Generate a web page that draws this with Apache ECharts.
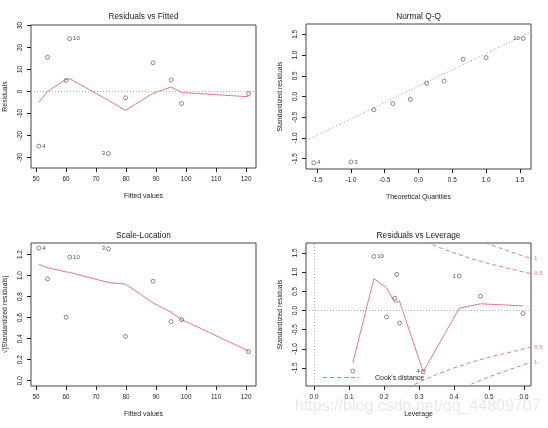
<!DOCTYPE html>
<html>
<head>
<meta charset="utf-8">
<script src="https://cdn.jsdelivr.net/npm/echarts@6/dist/echarts.min.js"></script>
<style>html,body{margin:0;padding:0;background:#fff}#c{width:548px;height:428px}</style>
</head>
<body>
<div id="c"></div>
<script>
// ---------- data ----------
// Residuals vs Fitted
const fitted     = [50.9, 53.8, 60.0, 61.2, 74.1, 79.8, 89.0, 95.0, 98.5, 120.8];
const residuals  = [-24.9, 15.5, 5.0, 24.0, -28.2, -2.9, 13.0, 5.2, -5.5, -1.0];
const fittedLbl  = ['4', '', '', '10', '3', '', '', '', '', ''];
const rvfSmooth  = [-5.0, 0.0, 5.5, 5.8, -4.1, -8.6, -0.8, 2.0, -0.5, -2.4];
const rvfTicksX  = [50, 60, 70, 80, 90, 100, 110, 120];
const rvfTicksY  = [-30, -20, -10, 0, 10, 20, 30];

// Normal Q-Q
const qqTheo     = [-1.55, -1.0, -0.66, -0.38, -0.12, 0.12, 0.38, 0.66, 1.0, 1.55];
const qqStd      = [-1.60, -1.58, -0.32, -0.17, -0.07, 0.32, 0.37, 0.90, 0.94, 1.40];
const qqLbl      = ['4', '3', '', '', '', '', '', '', '', '10'];
const qqLineX    = [-1.7, 1.7];
const qqLineY    = [-1.09, 1.59];
const qqTicks    = [-1.5, -1.0, -0.5, 0.0, 0.5, 1.0, 1.5];

// Scale-Location
const slVal      = [1.261, 0.969, 0.604, 1.176, 1.255, 0.422, 0.947, 0.563, 0.582, 0.277];
const slLbl      = ['4', '', '', '10', '3', '', '', '', '', ''];
const slSmooth   = [1.107, 1.075, 1.035, 1.03, 0.934, 0.919, 0.74, 0.651, 0.582, 0.283];
const slTicksY   = [0.0, 0.2, 0.4, 0.6, 0.8, 1.0, 1.2];

// Residuals vs Leverage
const lev        = [0.111, 0.171, 0.207, 0.231, 0.236, 0.244, 0.312, 0.415, 0.476, 0.597];
const levStd     = [-1.58, 1.41, -0.17, 0.32, 0.94, -0.33, -1.60, 0.90, 0.37, -0.08];
const levLbl     = ['', '10', '', '', '', '', '4', '1', '', ''];
const levSmooth  = [-1.36, 0.83, 0.59, 0.21, 0.19, 0.25, -1.60, 0.06, 0.175, 0.12];
const levTicksX  = [0.0, 0.1, 0.2, 0.3, 0.4, 0.5, 0.6];
const levTicksY  = [-1.5, -1.0, -0.5, 0.0, 0.5, 1.0, 1.5];
const cookHalfUpX = [0.32, 0.35, 0.40, 0.45, 0.50, 0.55, 0.60, 0.62];
const cookHalfUpY = [1.78, 1.67, 1.50, 1.35, 1.22, 1.11, 1.00, 0.96];
const cookOneUpX  = [0.49, 0.50, 0.55, 0.60, 0.62];
const cookOneUpY  = [1.77, 1.73, 1.57, 1.41, 1.36];
const cookHalfLoX = [0.27, 0.30, 0.35, 0.40, 0.45, 0.50, 0.55, 0.60, 0.62];
const cookHalfLoY = [-2.02, -1.87, -1.67, -1.50, -1.35, -1.22, -1.11, -1.00, -0.96];
const cookOneLoX  = [0.43, 0.45, 0.50, 0.55, 0.60, 0.62];
const cookOneLoY  = [-2.00, -1.92, -1.73, -1.57, -1.41, -1.36];

// ---------- styling ----------
const FONT = '"Liberation Sans", Arial, sans-serif';
const RED = '#E8768A';
const INK = '#222';
const zip = (a, b) => a.map((v, i) => [v, b[i]]);

function xAx(gi, min, max, ticks, name, dec) {
  return {
    type: 'value', gridIndex: gi, min: min, max: max,
    axisLine: { show: false, onZero: false }, splitLine: { show: false },
    axisTick: { show: true, length: 4, lineStyle: { color: INK, width: 1 }, customValues: ticks },
    axisLabel: { customValues: ticks, fontSize: 6.4, color: INK, margin: 8, fontFamily: FONT,
                 formatter: v => v.toFixed(dec) },
    name: name, nameLocation: 'middle', nameGap: 25,
    nameTextStyle: { fontSize: 6.9, color: INK, fontFamily: FONT }
  };
}
function yAx(gi, min, max, ticks, name, dec) {
  return {
    type: 'value', gridIndex: gi, min: min, max: max,
    axisLine: { show: false, onZero: false }, splitLine: { show: false },
    axisTick: { show: true, length: 4, lineStyle: { color: INK, width: 1 }, customValues: ticks },
    axisLabel: { customValues: ticks, fontSize: 6.4, color: INK, margin: 8, rotate: 90, fontFamily: FONT,
                 formatter: v => v.toFixed(dec) },
    name: name, nameLocation: 'middle', nameGap: 22,
    nameTextStyle: { fontSize: 6.9, color: INK, fontFamily: FONT }
  };
}
function pts(gi, xs, ys, lbls, leftSet) {
  return {
    type: 'scatter', xAxisIndex: gi, yAxisIndex: gi,
    symbol: 'circle', symbolSize: 4,
    itemStyle: { color: 'rgba(255,255,255,0)', borderColor: '#333', borderWidth: 0.7 },
    data: xs.map((x, i) => ({
      value: [x, ys[i]],
      label: lbls[i] ? { show: true, formatter: lbls[i],
        position: leftSet.includes(lbls[i]) ? 'left' : 'right', distance: 1,
        fontSize: 6, color: INK, fontFamily: FONT } : { show: false }
    })),
    z: 5
  };
}
function smoothLine(gi, xs, ys, extra) {
  return Object.assign({
    type: 'line', xAxisIndex: gi, yAxisIndex: gi, data: zip(xs, ys),
    symbol: 'none', lineStyle: { color: RED, width: 1 }, itemStyle: { color: RED }, z: 3
  }, extra || {});
}
function dottedRef(data) {
  return { silent: true, symbol: 'none', label: { show: false },
    lineStyle: { type: [1, 2], color: '#b5b5b5', width: 1 }, data: data };
}
function cook(xs, ys, lbl) {
  return {
    name: "Cook's distance", type: 'line', xAxisIndex: 3, yAxisIndex: 3,
    data: zip(xs, ys), symbol: 'none', clip: true,
    lineStyle: { color: RED, width: 1, type: [4, 3] }, itemStyle: { color: RED },
    endLabel: { show: true, formatter: lbl, color: RED, fontSize: 6.2, distance: 3, fontFamily: FONT },
    z: 2
  };
}

const titleStyle = { fontSize: 8.3, fontWeight: 'normal', color: INK, fontFamily: FONT };

const option = {
  animation: false,
  backgroundColor: '#fff',
  title: [
    { text: 'Residuals vs Fitted', left: 143.5, top: 13, textAlign: 'center', textStyle: titleStyle, padding: 0 },
    { text: 'Normal Q-Q', left: 418.5, top: 13, textAlign: 'center', textStyle: titleStyle, padding: 0 },
    { text: 'Scale-Location', left: 143.5, top: 232, textAlign: 'center', textStyle: titleStyle, padding: 0 },
    { text: 'Residuals vs Leverage', left: 418.5, top: 232, textAlign: 'center', textStyle: titleStyle, padding: 0 }
  ],
  grid: [
    { left: 31, top: 25, width: 225, height: 143, show: true, borderColor: '#444', borderWidth: 1, backgroundColor: 'transparent' },
    { left: 306, top: 24, width: 225, height: 145, show: true, borderColor: '#444', borderWidth: 1, backgroundColor: 'transparent' },
    { left: 31, top: 243, width: 225, height: 143, show: true, borderColor: '#444', borderWidth: 1, backgroundColor: 'transparent' },
    { left: 306, top: 243, width: 225, height: 143, show: true, borderColor: '#444', borderWidth: 1, backgroundColor: 'transparent' }
  ],
  xAxis: [
    xAx(0, 48.3, 123.3, rvfTicksX, 'Fitted values', 0),
    xAx(1, -1.665, 1.665, qqTicks, 'Theoretical Quantiles', 1),
    xAx(2, 48.3, 123.3, rvfTicksX, 'Fitted values', 0),
    xAx(3, -0.023, 0.62, levTicksX, 'Leverage', 1)
  ],
  yAxis: [
    yAx(0, -34.8, 30.2, rvfTicksY, 'Residuals', 0),
    yAx(1, -1.75, 1.75, qqTicks, 'Standardized residuals', 1),
    yAx(2, -0.05, 1.31, slTicksY, '\u221A|Standardized residuals|', 1),
    yAx(3, -1.97, 1.76, levTicksY, 'Standardized residuals', 1)
  ],
  series: [
    smoothLine(0, fitted, rvfSmooth, { markLine: dottedRef([{ yAxis: 0 }]) }),
    pts(0, fitted, residuals, fittedLbl, ['3']),

    { type: 'line', xAxisIndex: 1, yAxisIndex: 1, data: zip(qqLineX, qqLineY), symbol: 'none',
      lineStyle: { type: [1, 2], color: '#999', width: 1 }, clip: true, z: 2 },
    pts(1, qqTheo, qqStd, qqLbl, ['10']),

    smoothLine(2, fitted, slSmooth),
    pts(2, fitted, slVal, slLbl, ['3']),

    smoothLine(3, lev, levSmooth, { markLine: dottedRef([{ yAxis: 0 }, { xAxis: 0 }]) }),
    pts(3, lev, levStd, levLbl, ['4', '1']),
    cook(cookHalfUpX, cookHalfUpY, '0.5'),
    cook(cookOneUpX, cookOneUpY, '1'),
    cook(cookHalfLoX, cookHalfLoY, '0.5'),
    cook(cookOneLoX, cookOneLoY, '1')
  ],
  graphic: [
    // legend key for the Cook's distance contours
    { type: 'line', silent: true, z: 10,
      shape: { x1: 323, y1: 377.5, x2: 359, y2: 377.5 },
      style: { stroke: RED, lineWidth: 1, lineDash: [4, 3] } },
    { type: 'text', silent: true, z: 10, x: 375, y: 378.5,
      style: { text: "Cook's distance", fontSize: 7, fill: INK, fontFamily: FONT,
               verticalAlign: 'middle', align: 'left' } },
    { type: 'text', left: 295, top: 399, silent: true, z: -10,
      style: { text: 'https://blog.csdn.net/qq_44809707', fontSize: 16,
               fill: 'rgba(190,190,190,0.35)', fontFamily: '"Liberation Sans", Arial, sans-serif' } }
  ]
};

const chart = echarts.init(document.getElementById('c'), null, { renderer: 'canvas' });
chart.setOption(option);
</script>
</body>
</html>
